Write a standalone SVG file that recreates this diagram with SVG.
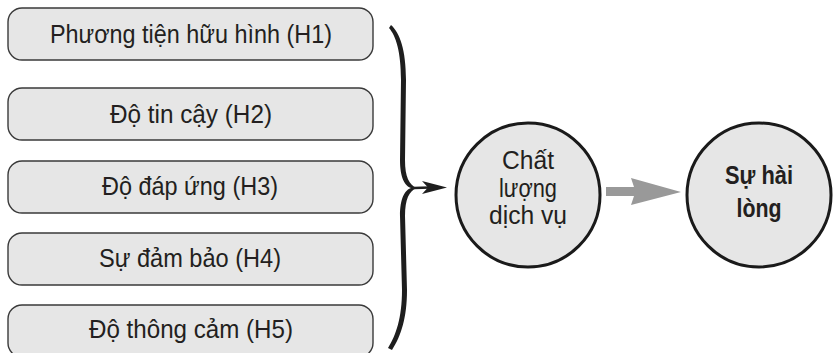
<svg xmlns="http://www.w3.org/2000/svg" width="835" height="353" viewBox="0 0 835 353">
  <style>
    .box { fill: #e6e6e6; stroke: #3a3a3a; stroke-width: 1.4; }
    .circle { fill: #e6e6e6; stroke: #1a1a1a; stroke-width: 3; }
    .label { font-family: "Liberation Sans", Arial, Helvetica, sans-serif; font-size: 25px; fill: #231f20; text-anchor: middle; }
    .bold { font-weight: bold; font-size: 26px; }
  </style>
  <rect width="835" height="353" fill="#ffffff"/>

  <!-- factor boxes -->
  <g id="h1">
    <rect class="box" x="8" y="8" width="365" height="52" rx="14"/>
    <text class="label" x="191" y="43" textLength="282" lengthAdjust="spacingAndGlyphs">Phương tiện hữu hình (H1)</text>
  </g>
  <g id="h2">
    <rect class="box" x="8" y="88" width="365" height="52" rx="14"/>
    <text class="label" x="191" y="123" textLength="162" lengthAdjust="spacingAndGlyphs">Độ tin cậy (H2)</text>
  </g>
  <g id="h3">
    <rect class="box" x="8" y="161" width="365" height="52" rx="14"/>
    <text class="label" x="190" y="195" textLength="176" lengthAdjust="spacingAndGlyphs">Độ đáp ứng (H3)</text>
  </g>
  <g id="h4">
    <rect class="box" x="8" y="233" width="365" height="52" rx="14"/>
    <text class="label" x="190" y="267" textLength="182" lengthAdjust="spacingAndGlyphs">Sự đảm bảo (H4)</text>
  </g>
  <g id="h5">
    <rect class="box" x="8" y="305" width="365" height="52" rx="14"/>
    <text class="label" x="191" y="338" textLength="204" lengthAdjust="spacingAndGlyphs">Độ thông cảm (H5)</text>
  </g>

  <!-- connectors: brace gathering the factors, and the outcome arrow -->
  <g id="connectors">
    <path fill="#1e1e1e" d="M391,25 C400,33 406,50 406,80 L405,160 C405,177 409,185 417,188 C409,191 405,199 405,216 L407,290 C407,318 401,336 392,350 L388,348 C396,335 402,318 402,290 L400,216 C400,198 405,190 411,188 C405,186 400,178 400,160 L401,80 C401,52 396,36 389,28 Z"/>
    <line x1="414" y1="188" x2="430" y2="187.5" stroke="#1e1e1e" stroke-width="2.5"/>
    <polygon fill="#1e1e1e" points="447,187.5 422,181 428,187.5 422,194"/>
    <polygon fill="#999999" points="606,187 634,187 631,178 681,192 631,205 634,196 606,196"/>
  </g>

  <!-- service quality -->
  <g id="quality">
    <circle class="circle" cx="528" cy="195" r="72"/>
    <text class="label" x="528" y="169" textLength="52" lengthAdjust="spacingAndGlyphs">Chất</text>
    <text class="label" x="528" y="197" textLength="58" lengthAdjust="spacingAndGlyphs">lượng</text>
    <text class="label" x="528" y="224" textLength="78" lengthAdjust="spacingAndGlyphs">dịch vụ</text>
  </g>

  <!-- satisfaction -->
  <g id="satisfaction">
    <circle class="circle" cx="759" cy="195" r="72"/>
    <text class="label bold" x="759" y="184" textLength="68" lengthAdjust="spacingAndGlyphs">Sự hài</text>
    <text class="label bold" x="759" y="217" textLength="45" lengthAdjust="spacingAndGlyphs">lòng</text>
  </g>
</svg>
